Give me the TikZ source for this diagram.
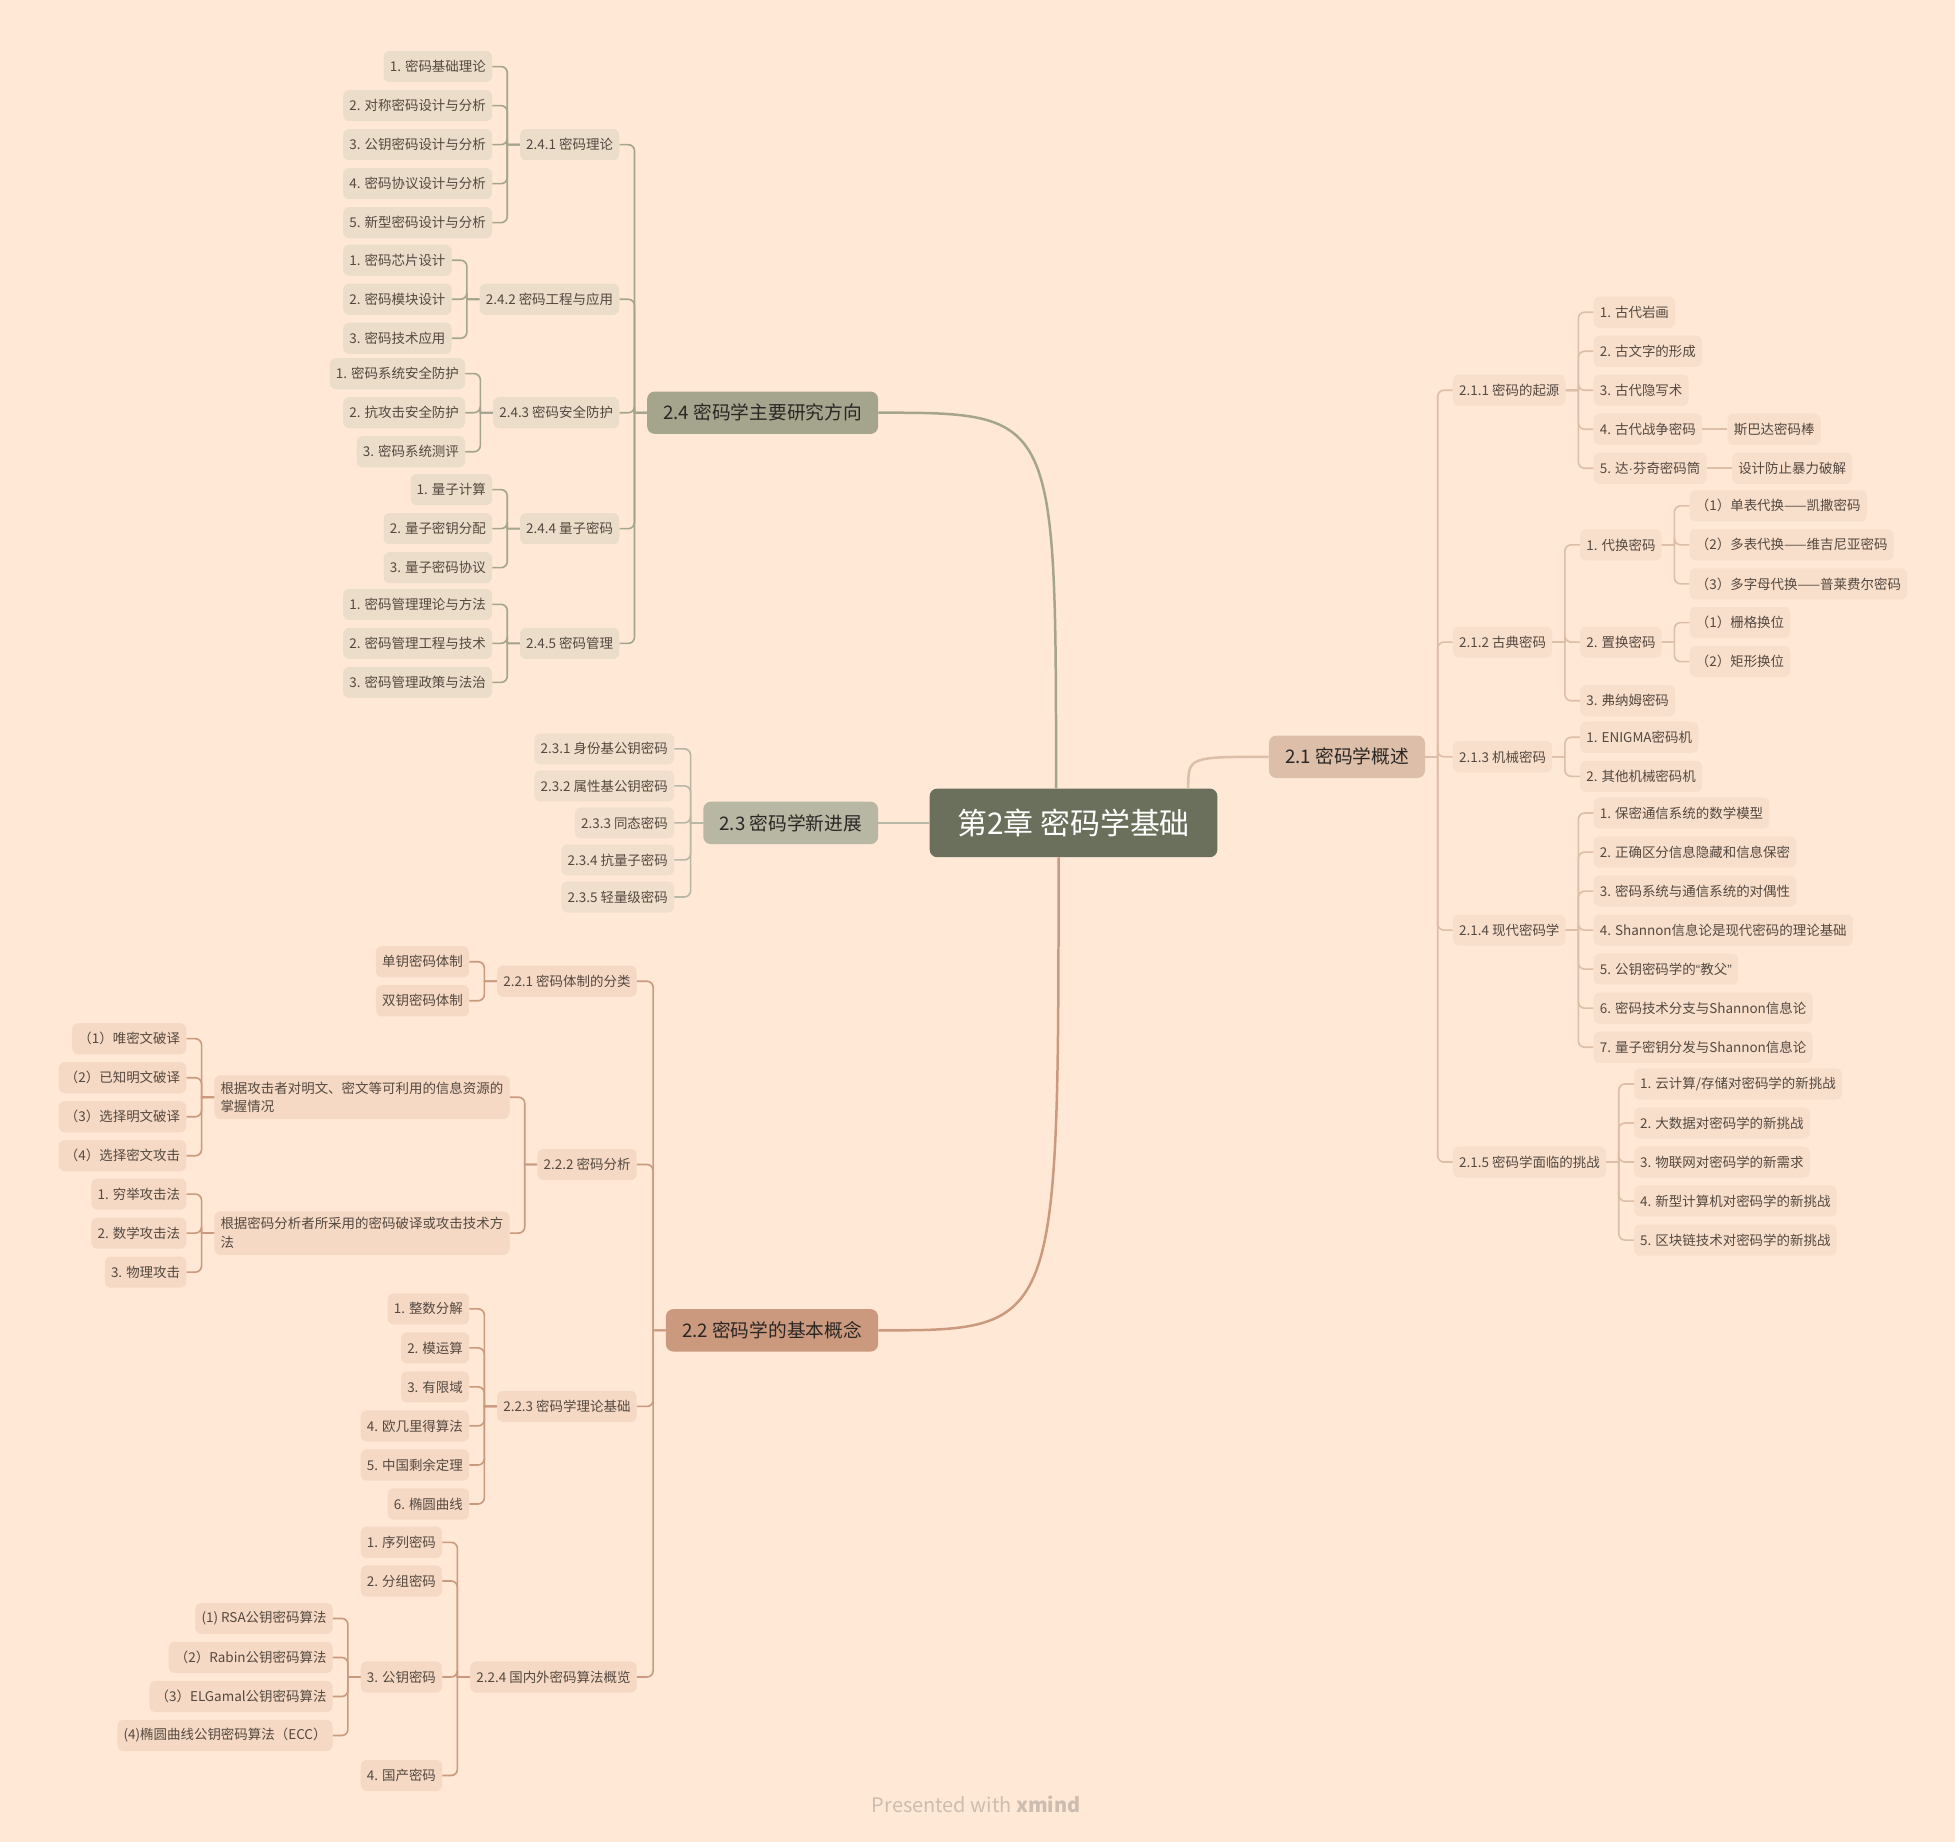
\documentclass[tikz,border=0pt]{standalone}
\usepackage{fontspec}
\setmainfont{Noto Sans CJK SC}
\newfontfamily\latinfont{Liberation Sans}
\usepackage{tikz}
\usetikzlibrary{positioning}
\definecolor{paper}{HTML}{FFE8D6}
\definecolor{moss}{HTML}{6B705C}
\definecolor{olv}{HTML}{A5A58D}
\definecolor{sage}{HTML}{B7B7A4}
\definecolor{clay}{HTML}{CB997E}
\definecolor{sand}{HTML}{DDBEA9}
\definecolor{ink}{HTML}{2A2623}
\definecolor{leafink}{HTML}{54483F}
\definecolor{olvbg}{HTML}{EBDDCA}
\definecolor{sagebg}{HTML}{F0DFCC}
\definecolor{claybg}{HTML}{F5D9C5}
\definecolor{sandbg}{HTML}{F8DFCC}
\definecolor{wmark}{HTML}{CDBCB0}
\tikzset{
  rootbox/.style={fill=moss,text=white,rounded corners=6pt,inner xsep=22pt,minimum height=55pt,font=\fontsize{24}{28}\selectfont},
  sec/.style={rounded corners=6pt,inner xsep=13pt,minimum height=34pt,text=ink,font=\fontsize{15}{18}\selectfont},
  sub/.style={rounded corners=5pt,inner xsep=5pt,minimum height=25pt,text=leafink,font=\fontsize{10.8}{15}\selectfont},
  sub24/.style={sub,fill=olvbg},
  sub23/.style={sub,fill=sagebg},
  sub22/.style={sub,fill=claybg},
  sub21/.style={sub,fill=sandbg},
  crit/.style={sub22,align=left,inner ysep=5pt},
  mainlk/.style={line width=2pt},
  lk24/.style={draw=olv,line width=1.3pt},
  lk23/.style={draw=sage,line width=1.3pt},
  lk22/.style={draw=clay,line width=1.3pt},
  lk21/.style={draw=sand,line width=1.3pt},
  lft/.style={to path={-- ++(-10pt,0) [rounded corners=5pt] |- (\tikztotarget)}},
  rgt/.style={to path={-- ++(10pt,0) [rounded corners=5pt] |- (\tikztotarget)}}
}
\begin{document}
\begin{tikzpicture}[x=1pt,y=-1pt]
  \fill[paper] (0,0) rectangle (1568,1477);
  \useasboundingbox (0,0) rectangle (1568,1477);

  \node[rootbox] (root) at (861,660) {第2章 密码学基础};
  \node[sec,fill=olv,left=41pt of root,yshift=329pt] (n24) {2.4 密码学主要研究方向};
  \node[sec,fill=sage,left=41pt of root] (n23) {2.3 密码学新进展};
  \node[sec,fill=clay,left=41pt of root,yshift=-407pt] (n22) {2.2 密码学的基本概念};
  \node[sec,fill=sand,right=41pt of root,yshift=53pt] (n21) {2.1 密码学概述};

  % 2.4
  \node[sub24,left=22pt of n24,yshift=215pt] (n241) {2.4.1 密码理论};
  \node[sub24,left=22pt of n24,yshift=91pt] (n242) {2.4.2 密码工程与应用};
  \node[sub24,left=22pt of n24] (n243) {2.4.3 密码安全防护};
  \node[sub24,left=22pt of n24,yshift=-93pt] (n244) {2.4.4 量子密码};
  \node[sub24,left=22pt of n24,yshift=-185pt] (n245) {2.4.5 密码管理};

  \node[sub24,left=22pt of n241,yshift=62.6pt] (n241a) {1. 密码基础理论};
  \node[sub24,left=22pt of n241,yshift=31.3pt] (n241b) {2. 对称密码设计与分析};
  \node[sub24,left=22pt of n241] (n241c) {3. 公钥密码设计与分析};
  \node[sub24,left=22pt of n241,yshift=-31.3pt] (n241d) {4. 密码协议设计与分析};
  \node[sub24,left=22pt of n241,yshift=-62.6pt] (n241e) {5. 新型密码设计与分析};

  \node[sub24,left=22pt of n242,yshift=31.3pt] (n242a) {1. 密码芯片设计};
  \node[sub24,left=22pt of n242] (n242b) {2. 密码模块设计};
  \node[sub24,left=22pt of n242,yshift=-31.3pt] (n242c) {3. 密码技术应用};

  \node[sub24,left=22pt of n243,yshift=31.3pt] (n243a) {1. 密码系统安全防护};
  \node[sub24,left=22pt of n243] (n243b) {2. 抗攻击安全防护};
  \node[sub24,left=22pt of n243,yshift=-31.3pt] (n243c) {3. 密码系统测评};

  \node[sub24,left=22pt of n244,yshift=31.3pt] (n244a) {1. 量子计算};
  \node[sub24,left=22pt of n244] (n244b) {2. 量子密钥分配};
  \node[sub24,left=22pt of n244,yshift=-31.3pt] (n244c) {3. 量子密码协议};

  \node[sub24,left=22pt of n245,yshift=31.3pt] (n245a) {1. 密码管理理论与方法};
  \node[sub24,left=22pt of n245] (n245b) {2. 密码管理工程与技术};
  \node[sub24,left=22pt of n245,yshift=-31.3pt] (n245c) {3. 密码管理政策与法治};

  % 2.3
  \node[sub23,left=23pt of n23,yshift=59.4pt] (n231) {2.3.1 身份基公钥密码};
  \node[sub23,left=23pt of n23,yshift=29.7pt] (n232) {2.3.2 属性基公钥密码};
  \node[sub23,left=23pt of n23] (n233) {2.3.3 同态密码};
  \node[sub23,left=23pt of n23,yshift=-29.7pt] (n234) {2.3.4 抗量子密码};
  \node[sub23,left=23pt of n23,yshift=-59.4pt] (n235) {2.3.5 轻量级密码};

  % 2.2
  \node[sub22,left=23pt of n22,yshift=280pt] (n221) {2.2.1 密码体制的分类};
  \node[sub22,left=23pt of n22,yshift=133pt] (n222) {2.2.2 密码分析};
  \node[sub22,left=23pt of n22,yshift=-61pt] (n223) {2.2.3 密码学理论基础};
  \node[sub22,left=23pt of n22,yshift=-278pt] (n224) {2.2.4 国内外密码算法概览};

  \node[sub22,left=22pt of n221,yshift=15.65pt] (n221a) {单钥密码体制};
  \node[sub22,left=22pt of n221,yshift=-15.65pt] (n221b) {双钥密码体制};

  \node[crit,left=22pt of n222,yshift=54pt] (n222a) {根据攻击者对明文、密文等可利用的信息资源的\\掌握情况};
  \node[crit,left=22pt of n222,yshift=-55pt] (n222b) {根据密码分析者所采用的密码破译或攻击技术方\\法};

  \node[sub22,left=22pt of n222a,yshift=46.95pt] (n222a1) {（1）唯密文破译};
  \node[sub22,left=22pt of n222a,yshift=15.65pt] (n222a2) {（2）已知明文破译};
  \node[sub22,left=22pt of n222a,yshift=-15.65pt] (n222a3) {（3）选择明文破译};
  \node[sub22,left=22pt of n222a,yshift=-46.95pt] (n222a4) {（4）选择密文攻击};

  \node[sub22,left=22pt of n222b,yshift=31.3pt] (n222b1) {1. 穷举攻击法};
  \node[sub22,left=22pt of n222b] (n222b2) {2. 数学攻击法};
  \node[sub22,left=22pt of n222b,yshift=-31.3pt] (n222b3) {3. 物理攻击};

  \node[sub22,left=22pt of n223,yshift=78.25pt] (n223a) {1. 整数分解};
  \node[sub22,left=22pt of n223,yshift=46.95pt] (n223b) {2. 模运算};
  \node[sub22,left=22pt of n223,yshift=15.65pt] (n223c) {3. 有限域};
  \node[sub22,left=22pt of n223,yshift=-15.65pt] (n223d) {4. 欧几里得算法};
  \node[sub22,left=22pt of n223,yshift=-46.95pt] (n223e) {5. 中国剩余定理};
  \node[sub22,left=22pt of n223,yshift=-78.25pt] (n223f) {6. 椭圆曲线};

  \node[sub22,left=22pt of n224,yshift=108pt] (n224a) {1. 序列密码};
  \node[sub22,left=22pt of n224,yshift=77pt] (n224b) {2. 分组密码};
  \node[sub22,left=22pt of n224] (n224c) {3. 公钥密码};
  \node[sub22,left=22pt of n224,yshift=-79pt] (n224d) {4. 国产密码};

  \node[sub22,left=22pt of n224c,yshift=46.95pt] (n224c1) {(1) RSA公钥密码算法};
  \node[sub22,left=22pt of n224c,yshift=15.65pt] (n224c2) {（2）Rabin公钥密码算法};
  \node[sub22,left=22pt of n224c,yshift=-15.65pt] (n224c3) {（3）ELGamal公钥密码算法};
  \node[sub22,left=22pt of n224c,yshift=-46.95pt] (n224c4) {(4)椭圆曲线公钥密码算法（ECC）};

  % 2.1
  \node[sub21,right=22pt of n21,yshift=294pt] (n211) {2.1.1 密码的起源};
  \node[sub21,right=22pt of n21,yshift=92pt] (n212) {2.1.2 古典密码};
  \node[sub21,right=22pt of n21] (n213) {2.1.3 机械密码};
  \node[sub21,right=22pt of n21,yshift=-139pt] (n214) {2.1.4 现代密码学};
  \node[sub21,right=22pt of n21,yshift=-325pt] (n215) {2.1.5 密码学面临的挑战};

  \node[sub21,right=22pt of n211,yshift=62.6pt] (n211a) {1. 古代岩画};
  \node[sub21,right=22pt of n211,yshift=31.3pt] (n211b) {2. 古文字的形成};
  \node[sub21,right=22pt of n211] (n211c) {3. 古代隐写术};
  \node[sub21,right=22pt of n211,yshift=-31.3pt] (n211d) {4. 古代战争密码};
  \node[sub21,right=22pt of n211,yshift=-62.6pt] (n211e) {5. 达{\latinfont ·}芬奇密码筒};
  \node[sub21,right=20pt of n211d] (sparta) {斯巴达密码棒};
  \node[sub21,right=20pt of n211e] (brute) {设计防止暴力破解};

  \node[sub21,right=22pt of n212,yshift=78pt] (n212a) {1. 代换密码};
  \node[sub21,right=22pt of n212] (n212b) {2. 置换密码};
  \node[sub21,right=22pt of n212,yshift=-47pt] (n212c) {3. 弗纳姆密码};

  \node[sub21,right=22pt of n212a,yshift=31.3pt] (n212a1) {（1）单表代换——凯撒密码};
  \node[sub21,right=22pt of n212a] (n212a2) {（2）多表代换——维吉尼亚密码};
  \node[sub21,right=22pt of n212a,yshift=-31.3pt] (n212a3) {（3）多字母代换——普莱费尔密码};

  \node[sub21,right=22pt of n212b,yshift=15.65pt] (n212b1) {（1）栅格换位};
  \node[sub21,right=22pt of n212b,yshift=-15.65pt] (n212b2) {（2）矩形换位};

  \node[sub21,right=22pt of n213,yshift=15.65pt] (n213a) {1. ENIGMA密码机};
  \node[sub21,right=22pt of n213,yshift=-15.65pt] (n213b) {2. 其他机械密码机};

  \node[sub21,right=22pt of n214,yshift=93.9pt] (n214a) {1. 保密通信系统的数学模型};
  \node[sub21,right=22pt of n214,yshift=62.6pt] (n214b) {2. 正确区分信息隐藏和信息保密};
  \node[sub21,right=22pt of n214,yshift=31.3pt] (n214c) {3. 密码系统与通信系统的对偶性};
  \node[sub21,right=22pt of n214] (n214d) {4. Shannon信息论是现代密码的理论基础};
  \node[sub21,right=22pt of n214,yshift=-31.3pt] (n214e) {5. 公钥密码学的{\latinfont “}教父{\latinfont ”}};
  \node[sub21,right=22pt of n214,yshift=-62.6pt] (n214f) {6. 密码技术分支与Shannon信息论};
  \node[sub21,right=22pt of n214,yshift=-93.9pt] (n214g) {7. 量子密钥分发与Shannon信息论};

  \node[sub21,right=22pt of n215,yshift=62.6pt] (n215a) {1. 云计算/存储对密码学的新挑战};
  \node[sub21,right=22pt of n215,yshift=31.3pt] (n215b) {2. 大数据对密码学的新挑战};
  \node[sub21,right=22pt of n215] (n215c) {3. 物联网对密码学的新需求};
  \node[sub21,right=22pt of n215,yshift=-31.3pt] (n215d) {4. 新型计算机对密码学的新挑战};
  \node[sub21,right=22pt of n215,yshift=-62.6pt] (n215e) {5. 区块链技术对密码学的新挑战};

  \node[text=wmark,font=\fontsize{16}{19}\selectfont] (credit) at (783,1447) {Presented with \textbf{xmind}};

  % main branches
  \coordinate (r24) at ([xshift=-14pt]root.north);
  \coordinate (r22) at ([xshift=-12pt]root.south);
  \coordinate (r21) at ([xshift=92pt]root.north);
  \draw[olv,mainlk] (r24) .. controls (r24 |- n24.east) .. (n24.east);
  \draw[sage,mainlk] (root.west) -- (n23.east);
  \draw[clay,mainlk] (r22) .. controls (r22 |- n22.east) .. (n22.east);
  \draw[sand,mainlk] (r21) .. controls (r21 |- n21.west) .. (n21.west);

  % brackets
  \draw[lk24] (n24.west) edge[lft] (n241.east) edge[lft] (n242.east) edge[lft] (n243.east) edge[lft] (n244.east) edge[lft] (n245.east);
  \draw[lk24] (n241.west) edge[lft] (n241a.east) edge[lft] (n241b.east) edge[lft] (n241c.east) edge[lft] (n241d.east) edge[lft] (n241e.east);
  \draw[lk24] (n242.west) edge[lft] (n242a.east) edge[lft] (n242b.east) edge[lft] (n242c.east);
  \draw[lk24] (n243.west) edge[lft] (n243a.east) edge[lft] (n243b.east) edge[lft] (n243c.east);
  \draw[lk24] (n244.west) edge[lft] (n244a.east) edge[lft] (n244b.east) edge[lft] (n244c.east);
  \draw[lk24] (n245.west) edge[lft] (n245a.east) edge[lft] (n245b.east) edge[lft] (n245c.east);

  \draw[lk23] (n23.west) edge[lft] (n231.east) edge[lft] (n232.east) edge[lft] (n233.east) edge[lft] (n234.east) edge[lft] (n235.east);

  \draw[lk22] (n22.west) edge[lft] (n221.east) edge[lft] (n222.east) edge[lft] (n223.east) edge[lft] (n224.east);
  \draw[lk22] (n221.west) edge[lft] (n221a.east) edge[lft] (n221b.east);
  \draw[lk22] (n222.west) edge[lft] (n222a.east) edge[lft] (n222b.east);
  \draw[lk22] (n222a.west) edge[lft] (n222a1.east) edge[lft] (n222a2.east) edge[lft] (n222a3.east) edge[lft] (n222a4.east);
  \draw[lk22] (n222b.west) edge[lft] (n222b1.east) edge[lft] (n222b2.east) edge[lft] (n222b3.east);
  \draw[lk22] (n223.west) edge[lft] (n223a.east) edge[lft] (n223b.east) edge[lft] (n223c.east) edge[lft] (n223d.east) edge[lft] (n223e.east) edge[lft] (n223f.east);
  \draw[lk22] (n224.west) edge[lft] (n224a.east) edge[lft] (n224b.east) edge[lft] (n224c.east) edge[lft] (n224d.east);
  \draw[lk22] (n224c.west) edge[lft] (n224c1.east) edge[lft] (n224c2.east) edge[lft] (n224c3.east) edge[lft] (n224c4.east);

  \draw[lk21] (n21.east) edge[rgt] (n211.west) edge[rgt] (n212.west) edge[rgt] (n213.west) edge[rgt] (n214.west) edge[rgt] (n215.west);
  \draw[lk21] (n211.east) edge[rgt] (n211a.west) edge[rgt] (n211b.west) edge[rgt] (n211c.west) edge[rgt] (n211d.west) edge[rgt] (n211e.west);
  \draw[lk21] (n211d) -- (sparta);
  \draw[lk21] (n211e) -- (brute);
  \draw[lk21] (n212.east) edge[rgt] (n212a.west) edge[rgt] (n212b.west) edge[rgt] (n212c.west);
  \draw[lk21] (n212a.east) edge[rgt] (n212a1.west) edge[rgt] (n212a2.west) edge[rgt] (n212a3.west);
  \draw[lk21] (n212b.east) edge[rgt] (n212b1.west) edge[rgt] (n212b2.west);
  \draw[lk21] (n213.east) edge[rgt] (n213a.west) edge[rgt] (n213b.west);
  \draw[lk21] (n214.east) edge[rgt] (n214a.west) edge[rgt] (n214b.west) edge[rgt] (n214c.west) edge[rgt] (n214d.west) edge[rgt] (n214e.west) edge[rgt] (n214f.west) edge[rgt] (n214g.west);
  \draw[lk21] (n215.east) edge[rgt] (n215a.west) edge[rgt] (n215b.west) edge[rgt] (n215c.west) edge[rgt] (n215d.west) edge[rgt] (n215e.west);
\end{tikzpicture}
\end{document}
